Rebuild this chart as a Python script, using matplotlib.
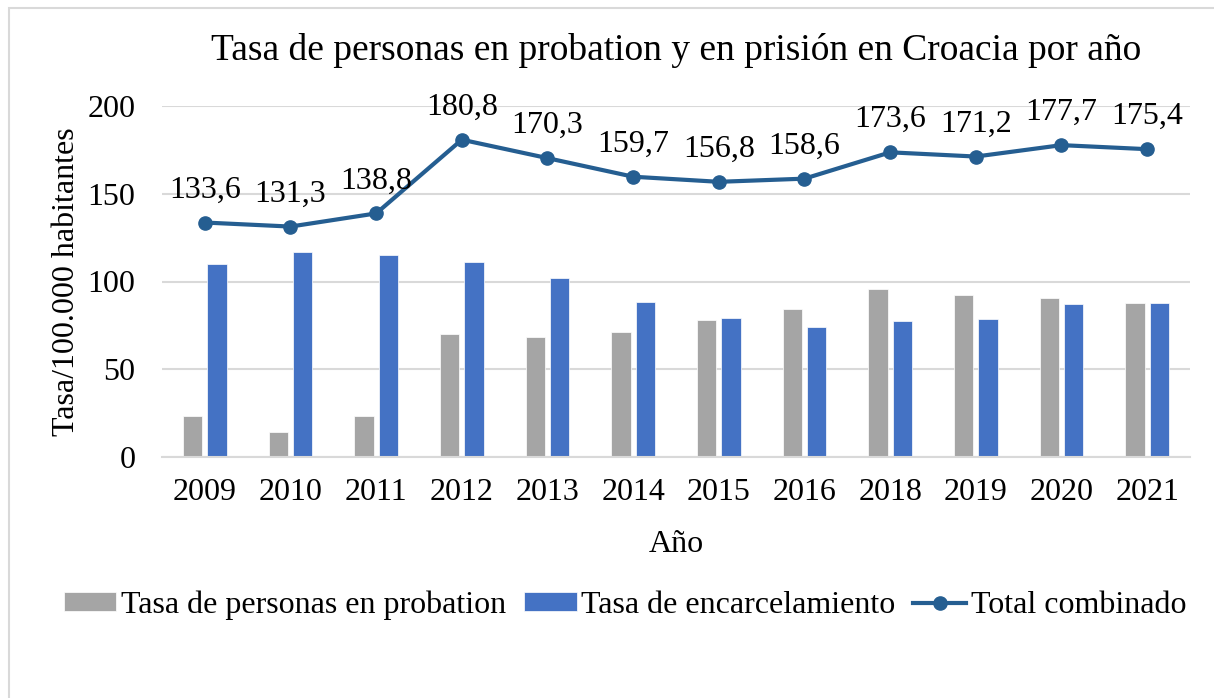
import numpy as np
import matplotlib
matplotlib.use('Agg')
import matplotlib.pyplot as plt
from matplotlib.patches import Rectangle

# data
years = ['2009', '2010', '2011', '2012', '2013', '2014', '2015', '2016', '2018', '2019', '2020', '2021']
probation = [23.4, 14.4, 23.5, 69.9, 68.3, 71.1, 77.8, 84.5, 95.9, 92.3, 90.4, 87.9]
encarcel = [110.2, 116.9, 115.3, 110.9, 102.0, 88.6, 79.0, 74.1, 77.7, 78.9, 87.3, 87.5]
total = [133.6, 131.3, 138.8, 180.8, 170.3, 159.7, 156.8, 158.6, 173.6, 171.2, 177.7, 175.4]

plt.rcParams['font.family'] = ['Liberation Serif', 'DejaVu Serif']

W, H = 1214, 698
fig = plt.figure(figsize=(W/100, H/100), dpi=100)
ax = fig.add_axes([162/W, 1-457/H, (1190-162)/W, (457-106)/H])

# outer chart frame
fig.patches.append(Rectangle((9/W, -0.1), 1.2, 1-8/H+0.1, transform=fig.transFigure,
                             fill=False, edgecolor='#D9D9D9', linewidth=1.5))

x = np.arange(len(years))
w = 0.227
b1 = ax.bar(x-0.143, probation, w, color='#A5A5A5', edgecolor='white', linewidth=0.5, zorder=2)
b2 = ax.bar(x+0.143, encarcel, w, color='#4472C4', edgecolor='white', linewidth=0.5, zorder=2)
l1, = ax.plot(x, total, color='#255E91', linewidth=3, marker='o', markersize=9.5, zorder=3)

for xi, v in zip(x, total):
    ax.annotate(f'{v:.1f}'.replace('.', ','), (xi, v), xytext=(0, 13),
                textcoords='offset points', ha='center', va='bottom', fontsize=23)

ax.set_xlim(-0.5, len(years)-0.5)
ax.set_ylim(0, 200)
ax.set_yticks([0, 50, 100, 150, 200])
ax.set_xticks(x)
ax.set_xticklabels(years)
ax.tick_params(axis='both', length=0, labelsize=23)
ax.tick_params(axis='y', pad=19)
ax.tick_params(axis='x', pad=15)
ax.grid(axis='y', color='#D9D9D9', linewidth=1.5, zorder=0)
ax.set_axisbelow(True)
for s in ['top', 'right', 'left']:
    ax.spines[s].set_visible(False)
ax.spines['bottom'].set_color('#D9D9D9')
ax.spines['bottom'].set_linewidth(1.5)

ax.set_xlabel('Año', fontsize=23, labelpad=17)
ax.set_ylabel('Tasa/100.000 habitantes', fontsize=23, labelpad=5)
fig.text(676/W, 1-50/H, 'Tasa de personas en probation y en prisión en Croacia por año',
         ha='center', va='center', fontsize=27)

fig.legend([b1, b2, l1], ['Tasa de personas en probation', 'Tasa de encarcelamiento', 'Total combinado'],
           loc='center', bbox_to_anchor=(625/W, 1-605/H), ncol=3, frameon=False,
           fontsize=23, handlelength=1.65, handleheight=0.5, handletextpad=0.15,
           columnspacing=0.55)

fig.savefig('out.png', dpi=100)
